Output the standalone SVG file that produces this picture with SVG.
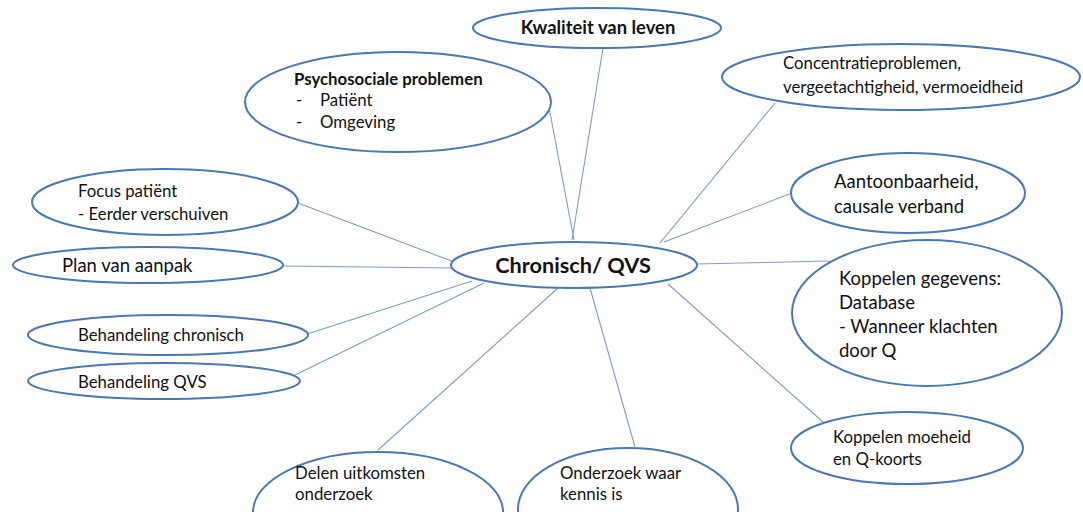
<svg xmlns="http://www.w3.org/2000/svg" width="1083" height="512" viewBox="0 0 1083 512">
<style>
.n{fill:#fff;stroke:#4a78b0;stroke-width:2}
.c line{stroke:#7d9cc6;stroke-width:1.1}
text{font-family:Lato,"Noto Sans",sans-serif;fill:#111}
.s{font-size:16.8px}
.m{font-size:18.5px}
.b{font-weight:bold}
</style>
<rect width="1083" height="512" fill="#fff"/>
<g class="c">
<line x1="603" y1="48" x2="572" y2="240"/>
<line x1="548" y1="102" x2="574" y2="240"/>
<line x1="775" y1="103" x2="660" y2="243"/>
<line x1="792" y1="193" x2="664" y2="242"/>
<line x1="697" y1="264" x2="830" y2="261"/>
<line x1="668" y1="284" x2="823" y2="422"/>
<line x1="590" y1="288" x2="635" y2="447"/>
<line x1="558" y1="288" x2="378" y2="450"/>
<line x1="295" y1="375" x2="484" y2="283"/>
<line x1="307" y1="334" x2="472" y2="281"/>
<line x1="283" y1="266" x2="452" y2="268"/>
<line x1="298" y1="203" x2="454" y2="262"/>
</g>
<g id="kwaliteit"><ellipse class="n" cx="597" cy="28" rx="124" ry="20"/><text class="b" style="font-size:18.4px" x="598" y="34" text-anchor="middle">Kwaliteit van leven</text></g>
<g id="psychosociale"><ellipse class="n" cx="398" cy="102" rx="153" ry="50"/>
<text class="s b" x="294" y="85">Psychosociale problemen</text>
<text class="s" x="296" y="106">-</text><text class="s" x="320" y="106">Patiënt</text>
<text class="s" x="296" y="128">-</text><text class="s" x="320" y="128">Omgeving</text></g>
<g id="concentratie"><ellipse class="n" cx="901" cy="77" rx="179" ry="33"/>
<text class="s" x="783" y="69">Concentratieproblemen,</text>
<text class="s" x="783" y="93">vergeetachtigheid, vermoeidheid</text></g>
<g id="aantoonbaarheid"><ellipse class="n" cx="908" cy="193" rx="117" ry="40"/>
<text class="m" x="834" y="188">Aantoonbaarheid,</text>
<text class="m" x="834" y="213">causale verband</text></g>
<g id="focus"><ellipse class="n" cx="165" cy="202" rx="133" ry="33"/>
<text class="s" x="78" y="197">Focus patiënt</text>
<text class="s" x="78" y="220">- Eerder verschuiven</text></g>
<g id="plan"><ellipse class="n" cx="148" cy="265" rx="135" ry="18"/>
<text class="m" x="62" y="272">Plan van aanpak</text></g>
<g id="behchronisch"><ellipse class="n" cx="168" cy="335" rx="140" ry="20"/>
<text class="s" x="78" y="341">Behandeling chronisch</text></g>
<g id="behqvs"><ellipse class="n" cx="164" cy="381" rx="136" ry="18"/>
<text class="s" x="78" y="388">Behandeling QVS</text></g>
<g id="centraal"><ellipse class="n" cx="574" cy="265" rx="123" ry="23"/>
<text x="573" y="273" text-anchor="middle" class="b" style="font-size:21.7px">Chronisch/ QVS</text></g>
<g id="koppelengegevens"><ellipse class="n" cx="927" cy="313" rx="135" ry="73"/>
<text class="m" x="839" y="285">Koppelen gegevens:</text>
<text class="m" x="839" y="309">Database</text>
<text class="m" x="839" y="333">- Wanneer klachten</text>
<text class="m" x="839" y="357">door Q</text></g>
<g id="koppelenmoeheid"><ellipse class="n" cx="907" cy="448" rx="116" ry="36"/>
<text class="s" x="833" y="443">Koppelen moeheid</text>
<text class="s" x="833" y="465">en Q-koorts</text></g>
<g id="delen"><ellipse class="n" cx="378" cy="512" rx="125" ry="60"/>
<text class="s" x="295" y="479">Delen uitkomsten</text>
<text class="s" x="295" y="500">onderzoek</text></g>
<g id="onderzoek"><ellipse class="n" cx="628" cy="509" rx="110" ry="61"/>
<text class="s" x="560" y="479">Onderzoek waar</text>
<text class="s" x="560" y="500">kennis is</text></g>
</svg>
